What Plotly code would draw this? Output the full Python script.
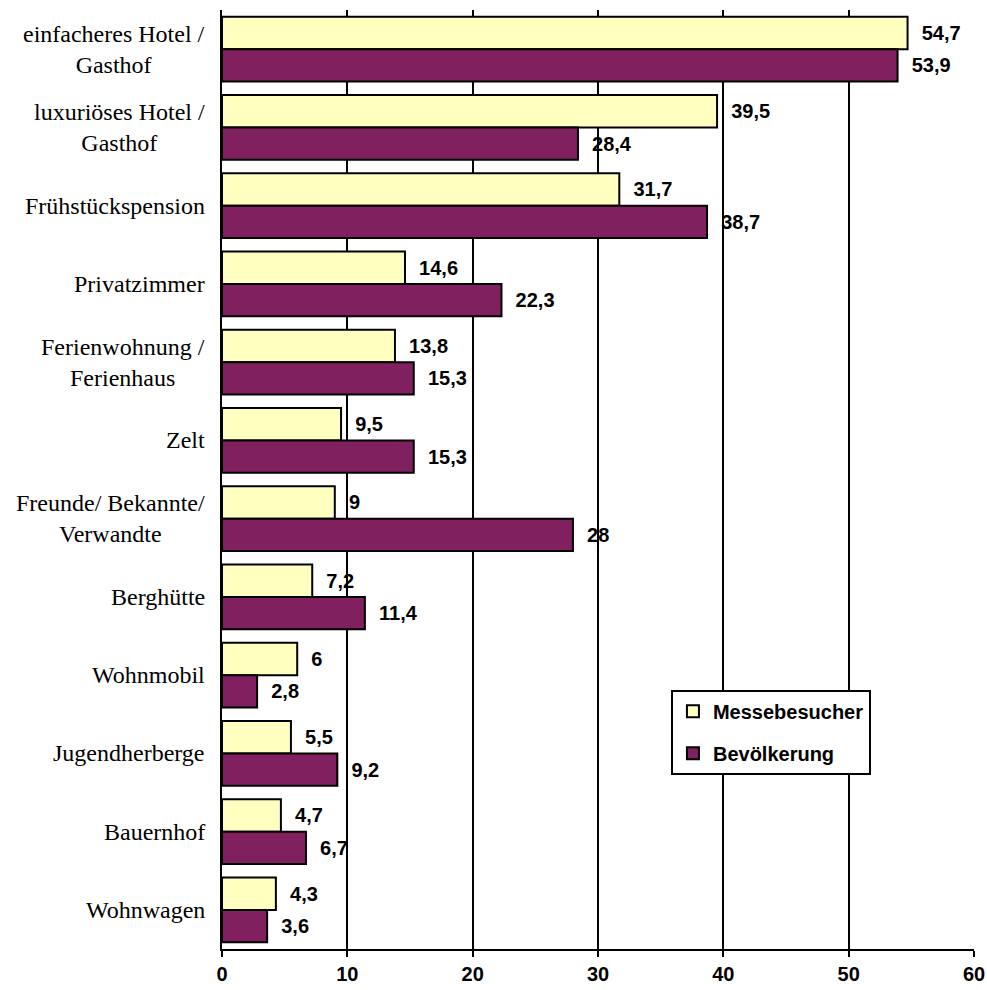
import plotly.graph_objects as go

categories = [
    "einfacheres Hotel /<br>Gasthof",
    "luxuriöses Hotel /<br>Gasthof",
    "Frühstückspension",
    "Privatzimmer",
    "Ferienwohnung /<br>Ferienhaus",
    "Zelt",
    "Freunde/ Bekannte/<br>Verwandte",
    "Berghütte",
    "Wohnmobil",
    "Jugendherberge",
    "Bauernhof",
    "Wohnwagen",
]
messebesucher = [54.7, 39.5, 31.7, 14.6, 13.8, 9.5, 9, 7.2, 6, 5.5, 4.7, 4.3]
bevoelkerung = [53.9, 28.4, 38.7, 22.3, 15.3, 15.3, 28, 11.4, 2.8, 9.2, 6.7, 3.6]
x_ticks = [0, 10, 20, 30, 40, 50, 60]


def fmt(v):
    # deutsche Dezimalschreibweise
    s = f"{v:g}"
    return "\u00a0\u00a0" + s.replace(".", ",")


bold = dict(family="Liberation Sans, Arial", size=20, color="black", weight="bold")

fig = go.Figure()
fig.add_trace(go.Bar(
    y=categories, x=messebesucher, orientation="h", name="Messebesucher",
    marker=dict(color="#FFFFC0", line=dict(color="black", width=2)),
    text=[fmt(v) for v in messebesucher], textposition="outside",
    textfont=bold, cliponaxis=False, legendgroup="a",
))
fig.add_trace(go.Bar(
    y=categories, x=bevoelkerung, orientation="h", name="Bevölkerung",
    marker=dict(color="#80205E", line=dict(color="black", width=2)),
    text=[fmt(v) for v in bevoelkerung], textposition="outside",
    textfont=bold, cliponaxis=False, legendgroup="b",
))

# Kategorienbeschriftung zentriert (mehrzeilig) links vom Diagramm
for c in categories:
    fig.add_annotation(
        x=0, xref="paper", y=c, yref="y", text=c, showarrow=False,
        xanchor="right", align="center", xshift=-15,
        font=dict(family="Liberation Serif, Times New Roman", size=24, color="black"),
    )

fig.update_layout(
    width=987, height=990,
    margin=dict(l=222, r=13, t=10, b=41),
    barmode="group", bargap=0.17, bargroupgap=0,
    plot_bgcolor="white", paper_bgcolor="white",
    showlegend=True,
    legend=dict(
        x=0.597, y=0.276, xanchor="left", yanchor="top",
        bordercolor="black", borderwidth=2, bgcolor="white",
        font=bold,
        traceorder="grouped", tracegroupgap=13,
    ),
    uniformtext=dict(minsize=20, mode="show"),
)
fig.update_xaxes(
    range=[0, 60], tickvals=x_ticks, showgrid=True, gridcolor="black", gridwidth=2,
    showline=True, linecolor="black", linewidth=2, ticks="outside", ticklen=6,
    tickwidth=2, tickcolor="black", zeroline=False, automargin=False,
    tickfont=bold,
)
fig.update_yaxes(
    autorange="reversed", showticklabels=False, showline=True, linecolor="black",
    linewidth=2, ticks="", showgrid=False, automargin=False,
)

# Body-Rand entfernen, damit die Figur exakt ins Fenster passt
fig.write_html(
    "out.html",
    config={"displayModeBar": False},
    post_script="document.body.style.margin='0';document.body.style.overflow='hidden';",
)
